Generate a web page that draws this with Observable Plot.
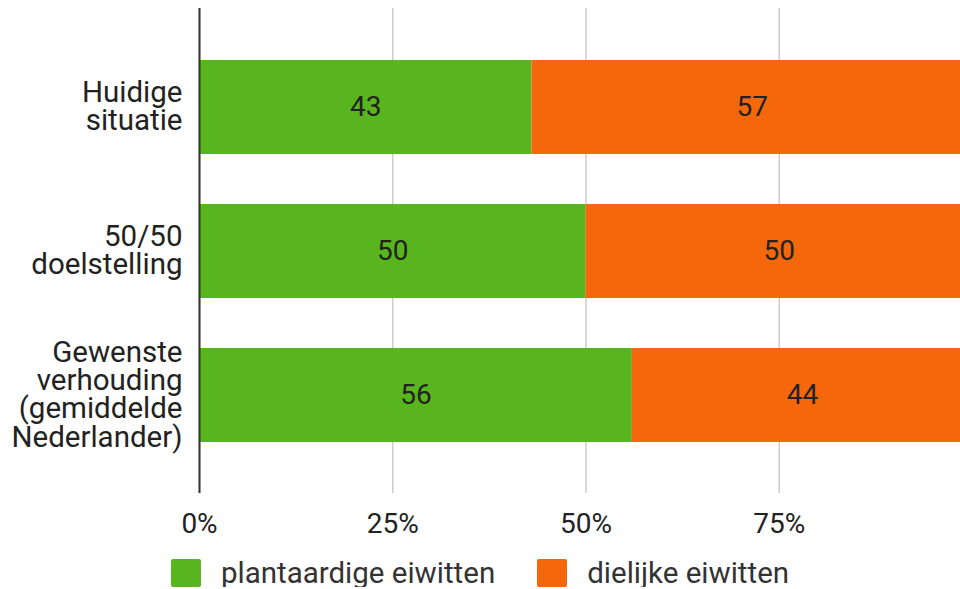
<!DOCTYPE html>
<html>
<head>
<meta charset="utf-8">
<script src="https://cdn.jsdelivr.net/npm/d3@7"></script>
<script src="https://cdn.jsdelivr.net/npm/@observablehq/plot@0.6"></script>
<style>
  html, body { margin: 0; padding: 0; background: #fff; overflow: hidden; }
  #chart svg { display: block; }
  .legend { display: flex; justify-content: center; align-items: center; margin-top: 14px; height: 28px;
            font-family: Roboto, sans-serif; font-size: 29.5px; line-height: 28px; color: #333; }
  .legend .sw { width: 30px; height: 28px; border-radius: 2px; margin-right: 20px; }
  .legend .item { display: flex; align-items: center; margin: 0 21px; }
</style>
</head>
<body>
<div id="chart"></div>
<div class="legend" id="legend"></div>
<script>
const categories = ["Huidige\nsituatie", "50/50\ndoelstelling", "Gewenste\nverhouding\n(gemiddelde\nNederlander)"];
const plantValues = [43, 50, 56];
const animalValues = [57, 50, 44];
const seriesNames = ["plantaardige eiwitten", "dielijke eiwitten"];
const seriesColors = ["#58b51d", "#f4680b"];
const xTicks = [0, 25, 50, 75];

const rows = categories.flatMap((c, i) => [
  {cat: c, series: seriesNames[0], value: plantValues[i]},
  {cat: c, series: seriesNames[1], value: animalValues[i]}
]);

const chart = Plot.plot({
  width: 960,
  height: 545,
  marginLeft: 199,
  marginRight: 0,
  marginTop: 8,
  marginBottom: 52,
  style: {fontFamily: "Roboto, sans-serif", fontSize: "28px", color: "#222", background: "#fff"},
  x: {domain: [0, 98.45], label: null},
  y: {domain: categories, padding: 0.35, label: null},
  color: {domain: seriesNames, range: seriesColors},
  marks: [
    Plot.gridX(xTicks, {stroke: "#cccccc", strokeOpacity: 1, strokeWidth: 1.5}),
    Plot.barX(rows, Plot.stackX({y: "cat", x: "value", fill: "series", clip: true})),
    Plot.textX(rows, Plot.stackX({y: "cat", x: "value", text: d => String(d.value), fill: "#222", fontSize: 28})),
    Plot.ruleX([0], {stroke: "#333", strokeWidth: 2}),
    Plot.axisX(xTicks, {tickSize: 0, tickPadding: 20, tickFormat: d => d + "%", fontSize: 28, fill: "#222", label: null}),
    Plot.axisY({tickSize: 0, tickPadding: 17, fontSize: 29.5, fill: "#222", lineHeight: 0.95, label: null})
  ]
});
document.getElementById("chart").append(chart);

const legend = document.getElementById("legend");
seriesNames.forEach((name, i) => {
  const item = document.createElement("div");
  item.className = "item";
  const sw = document.createElement("div");
  sw.className = "sw";
  sw.style.background = seriesColors[i];
  const label = document.createElement("span");
  label.textContent = name;
  item.append(sw, label);
  legend.append(item);
});
</script>
</body>
</html>
